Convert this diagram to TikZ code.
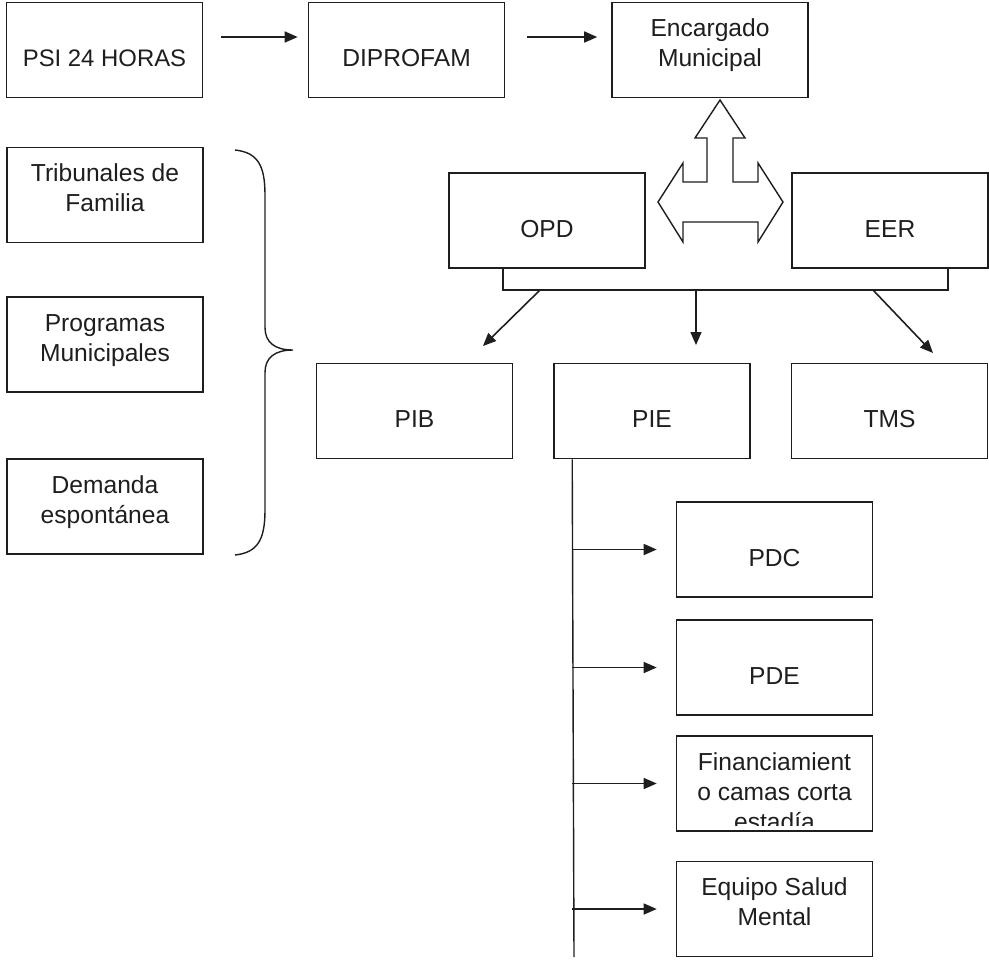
\documentclass[tikz,border=0pt]{standalone}
\usepackage{fontspec}
\setmainfont{Liberation Sans}
\usetikzlibrary{arrows.meta, calc}
\usepackage{xcolor}
\definecolor{lgray}{RGB}{30,30,30}

\begin{document}
\begin{tikzpicture}[
  box/.style={draw=lgray, line width=0.9pt, minimum width=3.92cm, minimum height=1.9cm,
              align=center, font=\fontsize{14}{17}\selectfont, text=lgray, inner sep=2pt,
              text height=18.8pt, text depth=0pt},
  twoline/.style={text height=27.2pt, text depth=8.4pt},
  conn/.style={draw=lgray, line width=0.9pt, -{Triangle[length=0.26cm, width=0.22cm]}},
]
\useasboundingbox (0,0) rectangle (19.78,-19.24);
% fila superior
\node[box, font=\fontsize{13.6}{17}\selectfont] (psi) at (2.09,-1.0) {PSI 24 HORAS};
\node[box] (dip) at (8.13,-1.0) {DIPROFAM};
\node[box, twoline] (enc) at (14.2,-1.0) {Encargado\\Municipal};
\draw[conn] ([xshift=0.36cm,yshift=0.26cm]psi.east) -- ([xshift=-0.2cm,yshift=0.26cm]dip.west);
\draw[conn] ([xshift=0.44cm,yshift=0.26cm]dip.east) -- ([xshift=-0.28cm,yshift=0.26cm]enc.west);
% derivaciones
\node[box, twoline] (trib) at (2.1,-3.9) {Tribunales de\\Familia};
\node[box, twoline] (prog) at (2.1,-6.89) {Programas\\Municipales};
\node[box, twoline] (dem) at (2.1,-10.13) {Demanda\\espontánea};
\draw[lgray, line width=0.8pt] (4.7,-3.0) .. controls (5.15,-3.05) and (5.3,-3.3) .. (5.3,-3.9)
  -- (5.3,-6.55) .. controls (5.3,-6.85) and (5.5,-7.0) .. (5.86,-7.0)
  .. controls (5.5,-7.0) and (5.3,-7.15) .. (5.3,-7.45)
  -- (5.3,-10.2) .. controls (5.3,-10.8) and (5.15,-11.05) .. (4.7,-11.1);
% OPD y EER
\node[box] (opd) at (10.94,-4.41) {OPD};
\node[box] (eer) at (17.8,-4.41) {EER};
\draw[lgray, line width=0.8pt, fill=white] (14.4,-2.0) -- (14.9,-2.76) -- (14.66,-2.76) -- (14.66,-3.64)
  -- (15.16,-3.64) -- (15.16,-3.26) -- (15.66,-4.04) -- (15.16,-4.84) -- (15.16,-4.44)
  -- (13.66,-4.44) -- (13.66,-4.84) -- (13.16,-4.04) -- (13.66,-3.26) -- (13.66,-3.64)
  -- (14.14,-3.64) -- (14.14,-2.76) -- (13.9,-2.76) -- cycle;
\coordinate (barL) at (10.06,-5.36);
\coordinate (barR) at (18.96,-5.36);
\draw[lgray, line width=0.8pt] (barL) -- ++(0,-0.44) -| (barR);
% programas
\node[box] (pib) at (8.29,-8.22) {PIB};
\node[box] (pie) at (13.04,-8.22) {PIE};
\node[box] (tms) at (17.79,-8.22) {TMS};
\coordinate (fromL) at (10.8,-5.8);
\coordinate (fromM) at (13.92,-5.8);
\coordinate (fromR) at (17.46,-5.8);
\coordinate (toL) at (9.66,-6.92);
\coordinate (toM) at (13.92,-6.9);
\coordinate (toR) at (18.66,-7.06);
\draw[conn] (fromL) -- (toL);
\draw[conn] (fromM) -- (toM);
\draw[conn] (fromR) -- (toR);
% PIE
\node[box] (pdc) at (15.49,-10.99) {PDC};
\node[box] (pde) at (15.49,-13.35) {PDE};
\node[box] (fin) at (15.49,-15.67) {};
\begin{scope}
  \clip ([yshift=0.12cm]fin.south west) rectangle (fin.north east);
  \node[align=center, font=\fontsize{14}{17}\selectfont, text=lgray] (finText)
    at ([yshift=-0.16cm]fin.center) {Financiamient\\o camas corta\\estadía};
\end{scope}
\node[box, twoline] (esm) at (15.49,-18.18) {Equipo Salud\\Mental};
\coordinate (spineTop) at ([xshift=0.38cm]pie.south west);
\coordinate (spineEnd) at (11.48,-19.14);
\draw[lgray, line width=0.8pt] (spineTop) -- (spineEnd);
\foreach \b in {pdc, pde, fin, esm}
  \draw[conn] (spineTop |- \b.west) -- ([xshift=-0.38cm]\b.west);
\end{tikzpicture}
\end{document}
